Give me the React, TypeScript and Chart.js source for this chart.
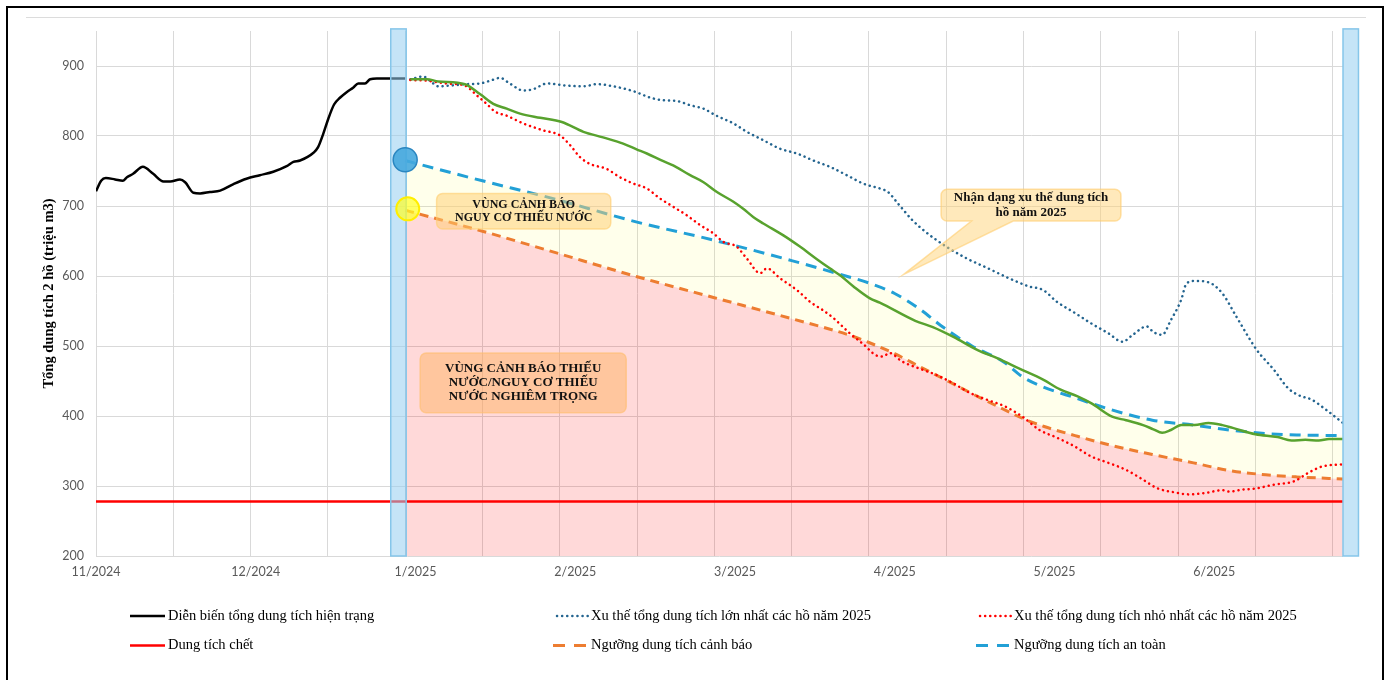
import React, { useEffect, useRef } from 'react';
import { Chart, registerables } from 'chart.js';

Chart.register(...registerables);

// x values are days counted from 1/11/2024 (day 0)
const X_MIN = 0;
const X_MAX = 242;
const gridDays = [0, 15, 30, 45, 60, 75, 90, 105, 120, 135, 150, 165, 180, 195, 210, 225, 240];
const labelDays = [0, 31, 62, 93, 124, 155, 186, 217];
const xLabels = ['11/2024', '12/2024', '1/2025', '2/2025', '3/2025', '4/2025', '5/2025', '6/2025'];
const yTickValues = [200, 300, 400, 500, 600, 700, 800, 900];
const Y_MIN = 200;
const Y_MAX = 950;

const yTitle = 'Tổng dung tích 2 hồ (triệu m3)';

const currentDays = [0, 1, 1.9, 3.7, 5.2, 6, 7.2, 9.1, 11.1, 13.1, 14.4, 16.3, 17.3, 18.9, 20.2, 22.1, 24.1, 26.6, 29.2, 31.8, 34.4, 37, 38.3, 39.6, 42.2, 43.1, 44.1, 45.1, 46.2, 47.4, 48.7, 49.9, 50.9, 52.2, 53.2, 54.5, 57, 60];
const currentValues = [721, 736, 740, 738, 736, 741, 746, 756, 746, 735, 735, 738, 734, 719, 718, 720, 722, 731, 739, 744, 749, 757, 763, 765, 776, 784, 803, 825, 845, 855, 863, 869, 875, 875, 881, 882, 882, 882];

const trendDays = [61, 64.2, 66.4, 71.6, 74.5, 77.1, 79.7, 82.3, 86.2, 90.4, 94.6, 98.4, 102.3, 104.9, 106.9, 110.1, 112, 115.3, 117.9, 120.5, 123.7, 125.6, 127.6, 129.5, 133.4, 136.6, 139.9, 142.4, 144.4, 147, 150.2, 152.1, 159, 162.4, 166.4, 171.1, 175.1, 179.1, 183.8, 187.1, 190.5, 193.2, 197.2, 199.9, 203.2, 205.2, 206.9, 208.6, 210.6, 213.2, 215.9, 218.6, 220.6, 225, 229.3, 232, 234.7, 237.3, 239.3, 242];
const trendValues = [881, 881, 878, 874, 860, 846, 839, 832, 826, 820, 806, 798, 789, 781, 775, 764, 758, 744, 734, 720, 706, 696, 684, 675, 658, 642, 624, 611, 601, 585, 568, 562, 536, 527, 513, 494, 482, 468, 452, 438, 428, 418, 399, 394, 387, 381, 376, 380, 387, 387, 390, 387, 383, 374, 370, 365, 366, 365, 367, 367];

const maxDays = [61, 63.5, 64.8, 66.4, 68.7, 71.9, 74.5, 76.5, 78.4, 80.3, 82.9, 84.9, 87.5, 91.3, 94.6, 97.2, 100.4, 104.3, 107.5, 110.1, 112.7, 115.3, 117.9, 120.4, 123.7, 126.3, 129.5, 132.7, 136, 139.2, 142.4, 145.7, 148.9, 152.1, 153.7, 155.7, 158.4, 161, 165, 169, 173.1, 177.1, 181.1, 183.8, 186.5, 189.8, 193.2, 196.5, 199.2, 201.2, 203.9, 205.2, 206.9, 208.6, 210.6, 211.6, 213.2, 215.9, 218.6, 221.3, 225.3, 228.6, 231.3, 233.3, 236, 238.7, 242];
const maxValues = [881, 885, 879, 871, 872, 874, 875, 879, 883, 875, 865, 867, 875, 872, 871, 874, 871, 864, 855, 851, 850, 844, 839, 829, 818, 806, 794, 782, 775, 765, 756, 744, 732, 725, 720, 703, 680, 663, 642, 625, 611, 597, 585, 580, 563, 548, 532, 518, 506, 516, 528, 520, 516, 537, 566, 589, 593, 591, 575, 542, 494, 466, 440, 430, 423, 409, 390];

const minDays = [61, 64.2, 68.1, 71.6, 73.9, 75.8, 77.4, 79.7, 82.9, 86.8, 90, 92, 93.9, 95.9, 99.1, 101.7, 104.3, 106.9, 109.4, 112, 114.6, 117.2, 119.8, 121.7, 124.3, 126.3, 128.9, 130.2, 132.7, 136, 138.6, 141.1, 143.1, 146.3, 149, 151.3, 152.7, 154, 156.4, 159.7, 163, 166.3, 169.6, 173, 176.3, 179.8, 183.1, 186.5, 189.8, 193.2, 196.5, 199.9, 203.2, 205.9, 209.2, 212.2, 215.2, 218.6, 219.9, 222.6, 224.6, 228.7, 232.6, 235.3, 238, 242];
const minValues = [880, 879, 875, 872, 858, 846, 835, 829, 818, 808, 801, 787, 770, 760, 753, 741, 732, 725, 711, 699, 687, 673, 661, 649, 642, 625, 604, 611, 597, 580, 563, 551, 540, 518, 502, 487, 485, 490, 478, 468, 459, 447, 433, 423, 414, 399, 380, 369, 357, 342, 333, 323, 309, 297, 291, 288, 290, 294, 292, 295, 296, 302, 307, 319, 328, 331];

const thresholdDays = [60, 61, 75, 88, 105, 120, 135, 146, 150, 155, 160, 164, 170, 176, 180, 184, 190, 197, 205, 213, 220, 227, 233, 242];
const warningValues = [694, 692, 664, 636, 599, 569, 539, 516, 505, 489, 470, 455, 432, 410, 396, 385, 372, 358, 345, 333, 322, 316, 313, 310];
const safeValues = [765, 763, 736, 712, 677, 651, 622, 599, 590, 575, 552, 529, 500, 478, 455, 441, 426, 409, 394, 387, 380, 375, 373, 372];

const deadDays = [0, 242];
const deadValues = [278, 278];

const safeMarkerDay = [60];
const safeMarkerValue = [766];
const warnMarkerDay = [60.5];
const warnMarkerValue = [696];

// highlighted periods (start, end day) and their top value
const bandStarts = [57.2, 242];
const bandEnds = [60.2, 245];
const BAND_TOP = 953;

const legendLabels = [
  'Diễn biến tổng dung tích hiện trạng',
  'Xu thế tổng dung tích lớn nhất các hồ năm 2025',
  'Xu thế tổng dung tích nhỏ nhất các hồ năm 2025',
  'Dung tích chết',
  'Ngưỡng dung tích cảnh báo',
  'Ngưỡng dung tích an toàn',
];

const zip = (xs: number[], ys: number[]) => xs.map((x, i) => ({ x, y: ys[i] }));

const SERIF = '"Liberation Serif", "Times New Roman", serif';
const SANS = 'Lato, "Liberation Sans", sans-serif';

type Note = {
  x0: number; x1: number; y0: number; y1: number;
  lines: string[]; size: number; lineGap: number;
  fill: string; stroke: string;
  pointer?: { b0: number; b1: number; tx: number; ty: number };
};

const notes: Note[] = [
  { x0: 66.1, x1: 99.9, y0: 718, y1: 667, lines: ['VÙNG CẢNH BÁO', 'NGUY CƠ THIẾU NƯỚC'], size: 12, lineGap: 13.5, fill: 'rgba(255,205,110,0.5)', stroke: 'rgba(255,205,110,0.6)' },
  { x0: 62.9, x1: 102.9, y0: 490, y1: 404.5, lines: ['VÙNG CẢNH BÁO THIẾU', 'NƯỚC/NGUY CƠ THIẾU', 'NƯỚC NGHIÊM TRỌNG'], size: 13, lineGap: 14, fill: 'rgba(255,180,100,0.5)', stroke: 'rgba(255,190,110,0.6)' },
  { x0: 164, x1: 198.9, y0: 724, y1: 678.6, lines: ['Nhận dạng xu thế dung tích', 'hồ năm 2025'], size: 13, lineGap: 15, fill: 'rgba(255,212,120,0.5)', stroke: 'rgba(255,205,110,0.6)', pointer: { b0: 169.9, b1: 178, tx: 156.7, ty: 602 } },
];

const bandsPlugin = {
  id: 'bands',
  afterDatasetDraw(chart: any, args: any) {
    if (args.index !== 2) return;
    const { ctx, scales } = chart;
    const x = scales.x, y = scales.y;
    ctx.save();
    for (let i = 0; i < bandStarts.length; i++) {
      const a = x.getPixelForValue(bandStarts[i]);
      const b = x.getPixelForValue(bandEnds[i]);
      const t = y.getPixelForValue(BAND_TOP);
      const btm = y.getPixelForValue(Y_MIN);
      ctx.fillStyle = 'rgba(150,205,240,0.55)';
      ctx.fillRect(a, t, b - a, btm - t);
      ctx.strokeStyle = '#86c6ea';
      ctx.lineWidth = 1.5;
      ctx.strokeRect(a, t, b - a, btm - t);
    }
    ctx.restore();
  },
};

const notesPlugin = {
  id: 'notes',
  afterDatasetsDraw(chart: any) {
    const { ctx, scales } = chart;
    const X = scales.x, Y = scales.y;
    ctx.save();
    for (const n of notes) {
      const l = X.getPixelForValue(n.x0), r = X.getPixelForValue(n.x1);
      const t = Y.getPixelForValue(n.y0), b = Y.getPixelForValue(n.y1);
      const rad = 6;
      ctx.beginPath();
      ctx.moveTo(l + rad, t);
      ctx.lineTo(r - rad, t);
      ctx.arcTo(r, t, r, t + rad, rad);
      ctx.lineTo(r, b - rad);
      ctx.arcTo(r, b, r - rad, b, rad);
      if (n.pointer) {
        const p = n.pointer;
        ctx.lineTo(X.getPixelForValue(p.b1), b);
        ctx.lineTo(X.getPixelForValue(p.tx), Y.getPixelForValue(p.ty));
        ctx.lineTo(X.getPixelForValue(p.b0), b);
      }
      ctx.lineTo(l + rad, b);
      ctx.arcTo(l, b, l, b - rad, rad);
      ctx.lineTo(l, t + rad);
      ctx.arcTo(l, t, l + rad, t, rad);
      ctx.closePath();
      ctx.fillStyle = n.fill;
      ctx.fill();
      ctx.strokeStyle = n.stroke;
      ctx.lineWidth = 1.5;
      ctx.stroke();
      ctx.fillStyle = '#111';
      ctx.font = `bold ${n.size}px ${SERIF}`;
      ctx.textAlign = 'center';
      ctx.textBaseline = 'middle';
      const cx = (l + r) / 2, cy = (t + b) / 2;
      const start = cy - ((n.lines.length - 1) * n.lineGap) / 2;
      n.lines.forEach((s, i) => ctx.fillText(s, cx, start + i * n.lineGap));
    }
    ctx.restore();
  },
};

// legend: row-major order, dataset index for each entry
const legendDatasets = [3, 5, 4, 8, 6, 7];
const legendPlugin = {
  id: 'customLegend',
  afterDraw(chart: any) {
    const { ctx } = chart;
    const colX = [130, 553, 976];
    const rowY = [616, 645.5];
    ctx.save();
    legendDatasets.forEach((di, k) => {
      const ds = chart.data.datasets[di];
      const x0 = colX[k % 3];
      const y0 = rowY[Math.floor(k / 3)];
      const dash = ds.borderDash ? (ds.borderCapStyle === 'round' ? [0.1, 5] : [12, 9]) : [];
      ctx.beginPath();
      ctx.strokeStyle = ds.borderColor;
      ctx.lineWidth = ds.borderWidth;
      ctx.setLineDash(dash);
      ctx.lineCap = ds.borderCapStyle || 'butt';
      ctx.moveTo(x0 + (ds.borderCapStyle === 'round' ? 4 : 0), y0);
      ctx.lineTo(x0 + 35, y0);
      ctx.stroke();
      ctx.setLineDash([]);
      ctx.fillStyle = '#000';
      ctx.font = `14.5px ${SERIF}`;
      ctx.textAlign = 'left';
      ctx.textBaseline = 'middle';
      ctx.fillText(legendLabels[k], x0 + 38, y0);
    });
    ctx.restore();
  },
};

const allXTicks = Array.from(new Set([...gridDays, ...labelDays])).sort((a, b) => a - b);

export default function App() {
  const ref = useRef<HTMLCanvasElement>(null);
  useEffect(() => {
    const canvas = ref.current as HTMLCanvasElement;
    const chart = new Chart(canvas, {
      type: 'line',
      data: {
        datasets: [
          { label: 'safeMarker', data: zip(safeMarkerDay, safeMarkerValue), showLine: false, pointRadius: 12, pointBackgroundColor: 'rgba(70,168,222,0.9)', pointBorderColor: '#2a86c0', pointBorderWidth: 1.5 },
          { label: 'warnMarker', data: zip(warnMarkerDay, warnMarkerValue), showLine: false, pointRadius: 11.5, pointBackgroundColor: 'rgba(255,255,40,0.7)', pointBorderColor: '#ffee00', pointBorderWidth: 2 },
          { label: 'trend', data: zip(trendDays, trendValues), borderColor: '#58a22e', borderWidth: 2.5, pointRadius: 0, fill: false },
          { label: legendLabels[0], data: zip(currentDays, currentValues), borderColor: '#000000', borderWidth: 2.5, pointRadius: 0, fill: false },
          { label: legendLabels[2], data: zip(minDays, minValues), borderColor: '#ff0000', borderWidth: 2.5, borderDash: [0.1, 5], borderCapStyle: 'round', pointRadius: 0, fill: false },
          { label: legendLabels[1], data: zip(maxDays, maxValues), borderColor: '#23648f', borderWidth: 2.5, borderDash: [0.1, 5], borderCapStyle: 'round', pointRadius: 0, fill: false },
          { label: legendLabels[4], data: zip(thresholdDays, warningValues), borderColor: '#ed7d31', borderWidth: 3, borderDash: [9, 6], pointRadius: 0, fill: 'start', backgroundColor: 'rgba(255,0,0,0.15)' },
          { label: legendLabels[5], data: zip(thresholdDays, safeValues), borderColor: '#22a0d6', borderWidth: 3, borderDash: [11, 7], pointRadius: 0, fill: '-1', backgroundColor: 'rgba(255,255,0,0.08)' },
          { label: legendLabels[3], data: zip(deadDays, deadValues), borderColor: '#ff0000', borderWidth: 2.5, pointRadius: 0, fill: false },
        ] as any,
      },
      options: {
        animation: false,
        responsive: false,
        devicePixelRatio: 1,
        events: [],
        parsing: false as any,
        elements: { line: { cubicInterpolationMode: 'monotone' } as any },
        layout: { padding: { top: 31, right: 48, bottom: 0, left: 0 } },
        plugins: {
          legend: { display: false },
          tooltip: { enabled: false },
          filler: { drawTime: 'beforeDatasetsDraw' } as any,
        },
        scales: {
          x: {
            type: 'linear',
            min: X_MIN,
            max: X_MAX,
            position: 'bottom',
            border: { display: false },
            grid: {
              drawTicks: false,
              lineWidth: 1,
              color: (c: any) => (c.tick && gridDays.includes(c.tick.value) ? '#d9d9d9' : 'rgba(0,0,0,0)'),
            },
            afterBuildTicks: (s: any) => { s.ticks = allXTicks.map((v) => ({ value: v })); },
            afterFit: (s: any) => { s.height = 124; },
            ticks: {
              autoSkip: false,
              maxRotation: 0,
              minRotation: 0,
              padding: 8,
              color: '#595959',
              font: { family: SANS, size: 12.5 },
              callback: (v: any) => { const i = labelDays.indexOf(Number(v)); return i >= 0 ? xLabels[i] : ''; },
            },
          },
          y: {
            type: 'linear',
            min: Y_MIN,
            max: Y_MAX,
            border: { display: false },
            grid: { drawTicks: false, color: '#d9d9d9', lineWidth: 1 },
            afterBuildTicks: (s: any) => { s.ticks = yTickValues.map((v) => ({ value: v })); },
            afterFit: (s: any) => { s.width = 96; },
            ticks: { padding: 12, color: '#595959', font: { family: SANS, size: 12.5 }, callback: (v: any) => String(v) },
            title: { display: true, text: yTitle, color: '#000', font: { family: SERIF, size: 14.5, weight: 'bold' }, padding: { top: 41, bottom: 0 } },
          },
        },
      } as any,
      plugins: [bandsPlugin, notesPlugin, legendPlugin],
    });
    return () => chart.destroy();
  }, []);

  return (
    <>
      <style>{`html,body{margin:0;padding:0;overflow:hidden;background:#fff}`}</style>
      <div style={{ position: 'absolute', left: 6, top: 6, width: 1378, height: 674, boxSizing: 'border-box', border: '2px solid #000', borderBottom: 'none' }} />
      <div style={{ position: 'absolute', left: 26, top: 17, width: 1340, height: 0, borderTop: '1px solid #dcdcdc' }} />
      <canvas ref={ref} width={1391} height={680} style={{ position: 'absolute', left: 0, top: 0, width: 1391, height: 680 }} />
    </>
  );
}
